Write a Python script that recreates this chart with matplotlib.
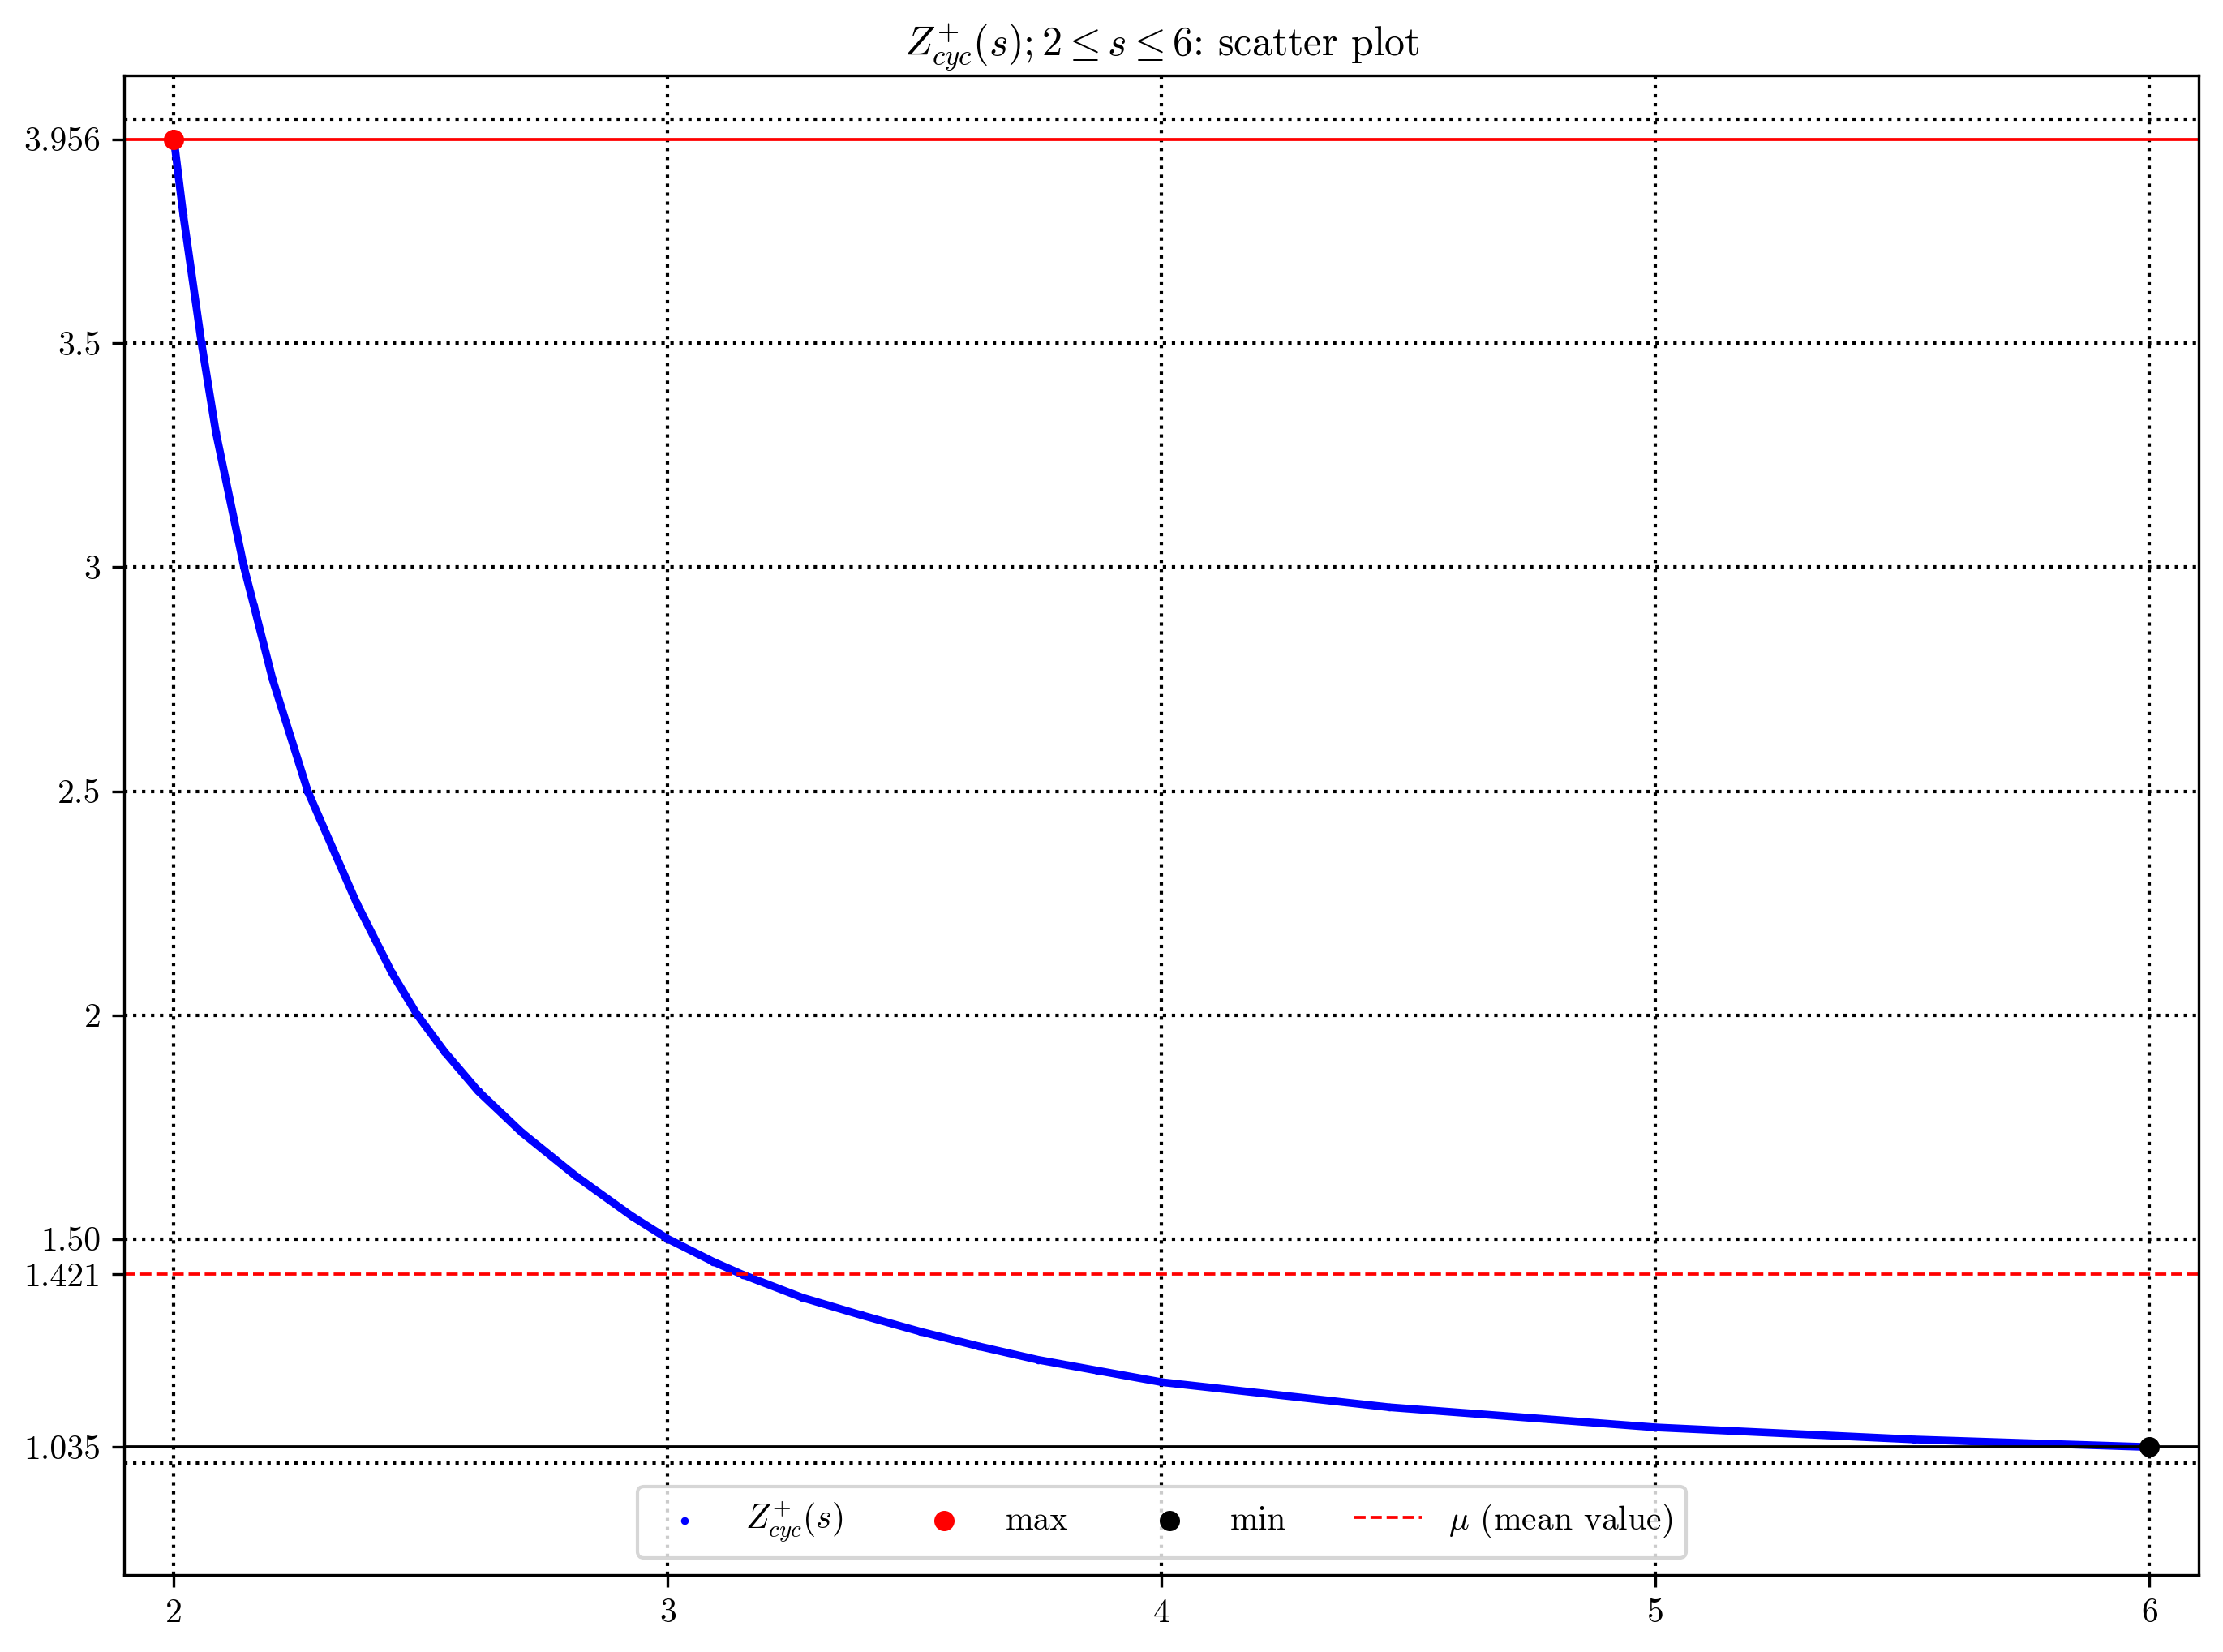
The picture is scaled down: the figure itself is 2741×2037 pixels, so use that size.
#!/usr/bin/env python3

import matplotlib
matplotlib.use('Agg')

import matplotlib.pyplot as plt

# values
s_vals = [2.000, 2.019, 2.056, 2.085, 2.142, 2.162, 2.200, 2.271, 2.370,
          2.442, 2.493, 2.548, 2.616, 2.704, 2.813, 2.928, 3.000, 3.092,
          3.152, 3.272, 3.391, 3.511, 3.630, 3.749, 3.869, 4.000, 4.460,
          5.000, 5.523, 6.000]
z_vals = [3.956, 3.787, 3.500, 3.302, 3.000, 2.914, 2.749, 2.500, 2.250,
          2.093, 2.000, 1.918, 1.830, 1.738, 1.641, 1.550, 1.500, 1.449,
          1.420, 1.369, 1.330, 1.293, 1.260, 1.230, 1.206, 1.180, 1.124,
          1.079, 1.052, 1.035]

z_max = 3.956
z_min = 1.035
z_mean = 1.421

x_ticks = [2, 3, 4, 5, 6]
y_ticks = [1.035, 1.421, 1.50, 2, 2.5, 3, 3.5, 3.956]
y_ticklabels = ['1.035', '1.421', '1.50', '2', '2.5', '3', '3.5', '3.956']
y_grid = [1.0, 1.5, 2.0, 2.5, 3.0, 3.5, 4.0]


def main():
    plt.rcParams['font.family'] = 'serif'
    plt.rcParams['font.serif'] = ['cmr10']
    plt.rcParams['mathtext.fontset'] = 'cm'
    plt.rcParams['axes.formatter.use_mathtext'] = True

    fig, ax = plt.subplots(figsize=(2741 / 300, 2037 / 300), dpi=300)
    fig.subplots_adjust(left=0.056, right=0.9892, bottom=0.0468, top=0.9542)

    # dotted grid (also at 1.0 and 4.0, which carry no tick)
    for x in x_ticks:
        ax.axvline(x, color='black', linestyle=':', linewidth=1.0, zorder=0.5)
    for y in y_grid:
        ax.axhline(y, color='black', linestyle=':', linewidth=1.0, zorder=0.5)

    ax.plot(s_vals, z_vals, color='blue', linewidth=2.3, zorder=2,
            solid_joinstyle='round', solid_capstyle='round')
    ax.scatter(s_vals, z_vals, s=5.3, color='blue', linewidths=0, zorder=2,
               label=r'$Z^{+}_{cyc}(s)$')

    ax.axhline(z_max, color='red', linewidth=0.9, zorder=2.5)
    ax.axhline(z_min, color='black', linewidth=0.9, zorder=2.5)
    ax.axhline(z_mean, color='red', linestyle='--', linewidth=0.9, zorder=2.5,
               label=r'$\mu$ (mean value)')

    ax.scatter([s_vals[0]], [z_max], s=25, color='red', zorder=4, label='max')
    ax.scatter([s_vals[-1]], [z_min], s=25, color='black', zorder=4, label='min')

    ax.set_xlim(1.9, 6.1)
    ax.set_ylim(0.750, 4.098)
    ax.set_xticks(x_ticks)
    ax.set_xticklabels([str(x) for x in x_ticks])
    ax.set_yticks(y_ticks)
    ax.set_yticklabels(y_ticklabels)

    ax.set_title(r'$Z^{+}_{cyc}(s); 2 \leq s \leq 6$: scatter plot', fontsize=12)

    h, l = ax.get_legend_handles_labels()
    order = [0, 2, 3, 1]
    ax.legend([h[i] for i in order], [l[i] for i in order], loc='lower center',
              ncol=4, columnspacing=2.0)

    plt.savefig('out.png', dpi=300)


if __name__ == "__main__":
    main()
